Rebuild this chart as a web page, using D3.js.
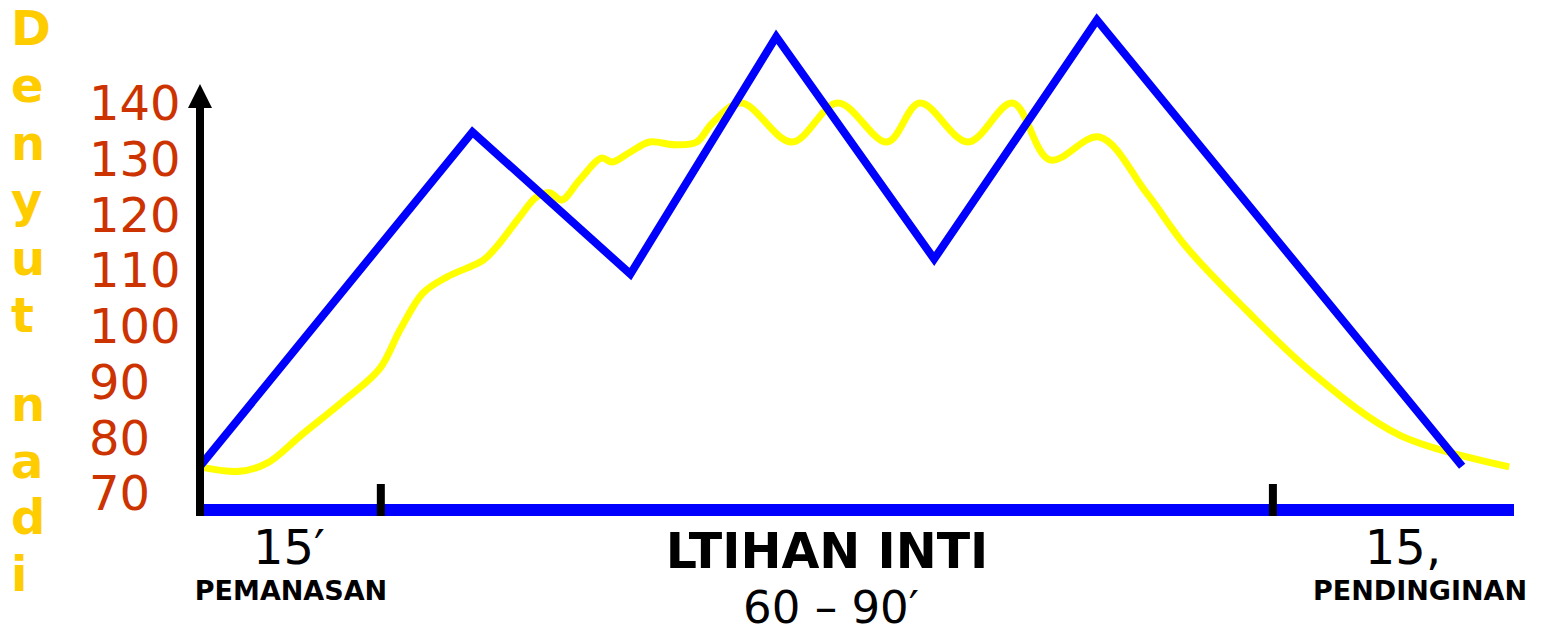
<!DOCTYPE html>
<html>
<head>
<meta charset="utf-8">
<script src="https://cdn.jsdelivr.net/npm/d3@7"></script>
<style>
  body { margin: 0; background: #fff; }
  text { font-family: "DejaVu Sans", Verdana, sans-serif; }
</style>
</head>
<body>
<svg width="1544" height="634"></svg>
<script>
// pulse (denyut nadi) ticks
const yTicks = [140, 130, 120, 110, 100, 90, 80, 70];

// phase boundaries in minutes
const phaseTicks = [15, 89];

// blue zigzag (target pulse)
const blueMinutes = [0, 22.6, 35.7, 47.8, 60.9, 74.4, 104.7];
const bluePulse = [74.8, 134.8, 109.3, 151.9, 112.0, 154.9, 74.8];

// yellow smooth curve (actual pulse)
const yellowMinutes = [0, 3.3, 5.6, 8.3, 12.0, 14.9, 16.6, 18.5, 20.5, 23.5, 24.6, 26.5,
  27.9, 29.0, 30.0, 31.5, 33.3, 34.2, 35.7, 37.3, 39.4, 41.2, 42.5, 44.9, 49.1, 52.9, 57.0,
  59.7, 63.7, 67.4, 70.5, 74.6, 78.5, 81.8, 86.8, 92.3, 99.5, 108.6];
const yellowPulse = [74.7, 73.9, 75.4, 80.2, 86.7, 92.3, 99.3, 105.9, 108.8, 111.8, 114.2, 119.5,
  123.1, 123.9, 122.6, 126.2, 130.1, 129.4, 131.2, 133.0, 132.5, 133.0, 136.4, 140.0, 133.0, 140.0, 133.0,
  140.0, 133.0, 140.0, 129.8, 133.9, 123.9, 114.2, 102.8, 91.5, 80.4, 74.7];

const titleTop = ["D", "e", "n", "y", "u", "t"];
const titleBottom = ["n", "a", "d", "i"];

const svg = d3.select("svg");

const x = d3.scaleLinear().domain([0, 109]).range([200, 1514]);
const y = d3.scaleLinear().domain([70, 140]).range([493, 103]);

const baseY = 510;

// vertical title
svg.append("g")
  .selectAll("text")
  .data(titleTop.map((c, i) => ({ c, yy: 45 + i * 57.4 }))
    .concat(titleBottom.map((c, i) => ({ c, yy: 421 + i * 56.7 }))))
  .enter()
  .append("text")
  .attr("x", 11)
  .attr("y", (d) => d.yy)
  .attr("fill", "#FFCC00")
  .attr("font-weight", "bold")
  .attr("font-size", 48)
  .text((d) => d.c);

// y tick labels
svg.append("g")
  .selectAll("text")
  .data(yTicks)
  .enter()
  .append("text")
  .attr("x", 89)
  .attr("y", (d) => y(d))
  .attr("dy", "0.36em")
  .attr("fill", "#CC3300")
  .attr("font-size", 48)
  .text((d) => d);

// yellow curve
const line = (curve) =>
  d3.line().x((d) => x(d[0])).y((d) => y(d[1])).curve(curve);

svg.append("path")
  .datum(d3.zip(yellowMinutes, yellowPulse))
  .attr("d", line(d3.curveCatmullRom.alpha(0.5)))
  .attr("fill", "none")
  .attr("stroke", "#FFFF00")
  .attr("stroke-width", 7);

// blue zigzag
svg.append("path")
  .datum(d3.zip(blueMinutes, bluePulse))
  .attr("d", line(d3.curveLinear))
  .attr("fill", "none")
  .attr("stroke", "#0000FF")
  .attr("stroke-width", 8)
  .attr("stroke-linejoin", "miter")
  .attr("stroke-miterlimit", 10);

// x axis (blue bar)
svg.append("line")
  .attr("x1", 204).attr("x2", 1514)
  .attr("y1", baseY).attr("y2", baseY)
  .attr("stroke", "#0000FF")
  .attr("stroke-width", 12);

// phase ticks
svg.append("g")
  .selectAll("line")
  .data(phaseTicks)
  .enter()
  .append("line")
  .attr("x1", (d) => x(d)).attr("x2", (d) => x(d))
  .attr("y1", 484).attr("y2", 516)
  .attr("stroke", "#000")
  .attr("stroke-width", 8);

// y axis with arrow
svg.append("line")
  .attr("x1", 200).attr("x2", 200)
  .attr("y1", 516).attr("y2", 104)
  .attr("stroke", "#000")
  .attr("stroke-width", 8);
svg.append("path")
  .attr("d", "M188,108 L200,84 L212,108 Z")
  .attr("fill", "#000");

// bottom labels
const labels = [
  { t: "15\u2032", x: 289, y: 564, size: 48, w: "normal" },
  { t: "PEMANASAN", x: 291, y: 600, size: 27, w: "bold" },
  { t: "LTIHAN INTI", x: 827, y: 568, size: 49, w: "bold" },
  { t: "60 \u2013 90\u2032", x: 831, y: 623, size: 45, w: "normal" },
  { t: "15,", x: 1403, y: 564, size: 48, w: "normal" },
  { t: "PENDINGINAN", x: 1420, y: 600, size: 27, w: "bold" }
];

svg.append("g")
  .selectAll("text")
  .data(labels)
  .enter()
  .append("text")
  .attr("x", (d) => d.x)
  .attr("y", (d) => d.y)
  .attr("text-anchor", "middle")
  .attr("font-size", (d) => d.size)
  .attr("font-weight", (d) => d.w)
  .attr("fill", "#000")
  .text((d) => d.t);
</script>
</body>
</html>
